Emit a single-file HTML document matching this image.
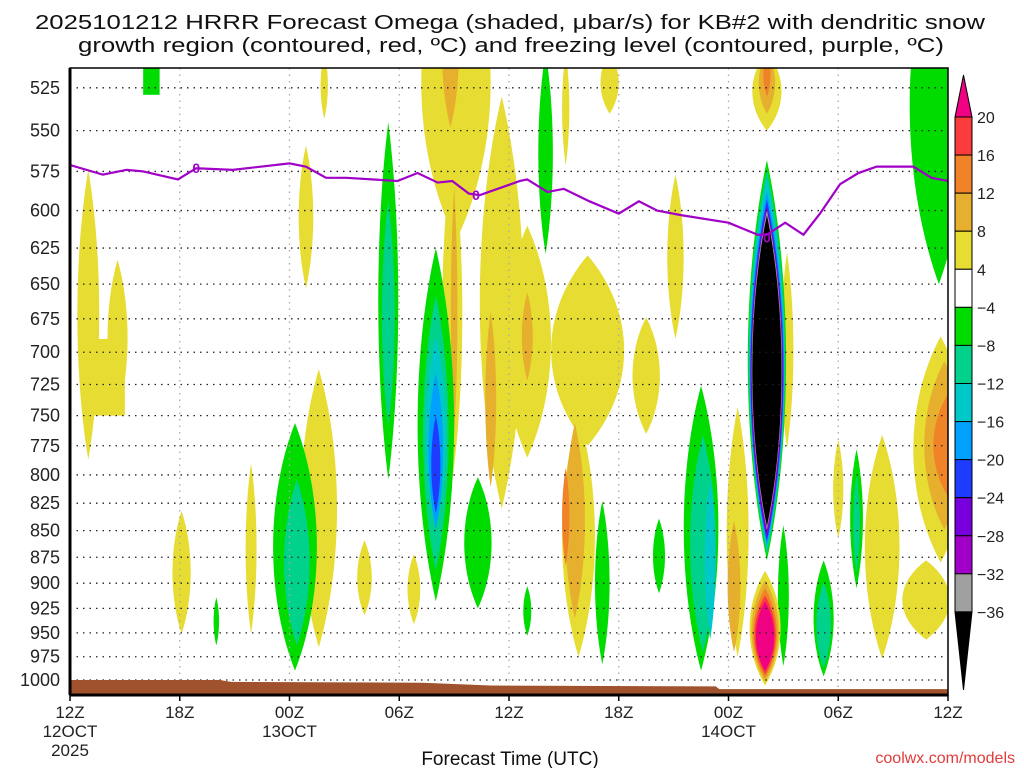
<!DOCTYPE html>
<html><head><meta charset="utf-8">
<style>
html,body{margin:0;padding:0;background:#fff;}
svg{display:block;font-family:"Liberation Sans",sans-serif;}
</style></head>
<body>
<svg id="chart" width="1024" height="768" viewBox="0 0 1024 768" xmlns="http://www.w3.org/2000/svg">
<text x="510" y="29" text-anchor="middle" font-size="20" textLength="950" lengthAdjust="spacingAndGlyphs" fill="#111">2025101212 HRRR Forecast Omega (shaded, μbar/s) for KB#2 with dendritic snow</text>
<text x="511" y="52" text-anchor="middle" font-size="20" textLength="866" lengthAdjust="spacingAndGlyphs" fill="#111">growth region (contoured, red, ºC) and freezing level (contoured, purple, ºC)</text>
<defs><clipPath id="plotClip"><rect x="70" y="68" width="878" height="627"/></clipPath></defs>
<g id="cells" clip-path="url(#plotClip)"></g>
<g id="grid"></g>
<g id="overlay" clip-path="url(#plotClip)"></g>
<g id="axes"></g>
<g id="cbar"></g>
<text x="510" y="765" text-anchor="middle" font-size="19" fill="#111">Forecast Time (UTC)</text>
<text x="1015" y="763" text-anchor="end" font-size="16" fill="#e03c3c">coolwx.com/models</text>
</svg>
<script>
// ---- data ----
const pressureTicks = [525,550,575,600,625,650,675,700,725,750,775,800,825,850,875,900,925,950,975,1000];
const timeTickHours = [0,6,12,18,24,30,36,42,48];
const timeTickLabels = [["12Z","12OCT","2025"],["18Z"],["00Z","13OCT"],["06Z"],["12Z"],["18Z"],["00Z","14OCT"],["06Z"],["12Z"]];
const colorLevels = [20,16,12,8,4,-4,-8,-12,-16,-20,-24,-28,-32,-36];
const levelColors = ["#f00082","#fa3c3c","#f08228","#e6af2d","#e6dc32","#ffffff","#00dc00","#00d28c","#00c8c8","#00a0ff","#1e3cff","#7800dc","#a000c8","#a0a0a0","#000000"];
// freezing level: hour, pressure
const fzHours = [0,1.8,3.1,4.0,5.9,6.9,8.9,12.0,12.9,14.0,15.1,17.9,19.0,20.1,20.9,21.8,22.4,24.6,25.0,26.1,27.0,28.4,30.0,31.1,32.1,33.4,36.0,37.6,38.1,39.1,40.1,41.0,42.1,43.1,44.1,46.1,47.1,48];
const fzPress = [571,577,574,575,580,573,574,570,572,579,579,581,576,582,581,589,590,581,580,588,586,594,602,594,600,603,608,616,616,608,616,602,583,576,572,572,579,581];
const fzLabelHours = [6.9,22.2,38.1];
const fzLabelPress = [573,590,618];
// surface pressure
const sfcHours = [0,8.2,8.8,19.3,23,35.3,35.5,48];
const sfcPress = [1000,1000,1002,1003,1006,1007,1010,1010];
// omega cells: [hour, halfWidthHours, topP, bottomP, binValue, isRect]
const omegaCells = [
 [4.45,0.45,505,529,-4,1],[13.9,0.2,505,543,4],
 [1.0,0.6,574,787,4],[2.6,0.55,633,750,4],[1.9,1.1,690,750,4,1],
 [12.9,0.4,559,653,4],[6.1,0.5,832,951,4],[9.9,0.3,790,951,4],[8.0,0.15,914,963,-4],
 [13.6,1.0,713,965,4],[12.3,1.2,756,990,-4],[12.4,0.7,804,963,-8],
 [16.1,0.4,859,932,4],[17.4,0.55,545,804,-4],[17.4,0.35,594,759,-8],[18.8,0.35,872,941,4],
 [21.1,1.9,440,620,4],[20.9,0.55,560,805,4],[21.0,0.18,585,767,8],[20.8,0.45,470,548,8],
 [23.6,1.2,530,830,4],[23.0,0.3,670,811,8],
 [20.0,1.0,625,918,-4],[20.0,0.7,658,888,-8],[20.0,0.55,688,849,-12],[20.0,0.4,716,849,-16],[20.0,0.25,750,834,-20],
 [22.3,0.75,802,925,-4],
 [26.0,0.4,505,629,-4],[27.1,0.2,505,571,4],[29.5,0.5,505,540,4],
 [25.0,1.3,610,785,4],[28.3,2.0,630,775,4],[27.8,0.9,750,975,4],[27.6,0.55,756,935,8],[27.1,0.2,794,883,12],[25.0,0.3,656,722,8],
 [29.1,0.4,823,983,-4],[25.0,0.22,903,953,-4],[31.5,0.75,674,765,4],[33.1,0.45,577,690,4],[32.2,0.33,839,910,-4],
 [34.5,0.95,726,990,-4],[34.6,0.7,766,970,-8],[35.0,0.3,804,957,-12],
 [36.5,0.6,743,975,4],[36.3,0.35,841,970,8],
 [39.2,0.35,628,777,4],[39.0,0.3,845,985,-4],
 [38.1,1.05,568,878,-4],[38.1,1.0,574,872,-8],[38.1,0.97,579,868,-12],[38.1,0.94,588,864,-16],[38.1,0.91,593,860,-20],[38.1,0.88,597,857,-24],[38.1,0.85,599,852,-28],[38.1,0.83,600,849,-32],[38.1,0.8,603,846,-36],
 [38.1,0.8,505,550,4],[38.1,0.45,505,540,8],[38.1,0.2,505,530,12],
 [38.0,0.85,888,1006,4],[38.0,0.75,897,1002,8],[38.0,0.65,905,998,12],[38.0,0.58,912,994,16],[38.0,0.5,918,990,20],
 [41.2,0.55,878,996,-4],[41.2,0.4,899,987,-8],[42.0,0.28,770,857,4],
 [43.0,0.35,778,905,-4],[43.0,0.18,800,890,-8],
 [44.4,0.95,766,977,4],[46.8,1.3,878,957,4],
 [47.6,1.5,688,880,4],[47.8,1.1,707,849,8],[48.0,0.8,733,819,12],
 [47.5,1.6,440,650,-4]
];
// ---- scales ----
const X0=70, X1=948, Y1000=680, KP=919;
function xS(h){return X0+h*(X1-X0)/48;}
function yS(p){return Y1000-KP*Math.log(1000/p);}
function colorFor(v){
  if(v>=20) return levelColors[0];
  if(v<=-36) return levelColors[14];
  if(v>0){ for(let i=0;i<5;i++){ if(v>=colorLevels[i]) return levelColors[i]; } return levelColors[5]; }
  for(let i=5;i<colorLevels.length;i++){ if(v>colorLevels[i]) return levelColors[i]; }
  return levelColors[13];
}
const NS="http://www.w3.org/2000/svg";
function mk(tag,attrs,parent){const e=document.createElementNS(NS,tag);for(const k in attrs)e.setAttribute(k,attrs[k]);parent.appendChild(e);return e;}

// cells
const cells=document.getElementById('cells');
omegaCells.forEach(c=>{
  const cx=xS(c[0]), w=c[1]*(X1-X0)/48, t=yS(c[2]), b=yS(c[3]);
  let el;
  if(c[5]){
    el=mk('rect',{x:cx-w,y:t,width:2*w,height:b-t,fill:colorFor(c[4])},cells);
  } else {
    const W=w*1.33, H=b-t;
    const d=`M${cx},${t} C${cx+W},${t+0.3*H} ${cx+W},${b-0.3*H} ${cx},${b} C${cx-W},${b-0.3*H} ${cx-W},${t+0.3*H} ${cx},${t} Z`;
    el=mk('path',{d:d,fill:colorFor(c[4])},cells);
  }
  
  
});

// ground
const ov=document.getElementById('overlay');
let gd=`M${xS(sfcHours[0])},700`;
sfcHours.forEach((h,i)=>{gd+=` L${xS(h)},${yS(sfcPress[i])}`;});
gd+=` L${xS(48)},700 Z`;
const ground=mk('path',{d:gd,fill:"#a0522d"},ov);



// grid
const grid=document.getElementById('grid');
pressureTicks.forEach(p=>{
  const l=mk('line',{x1:X0,x2:X1,y1:yS(p),y2:yS(p),stroke:"#222","stroke-width":1.3,"stroke-dasharray":"1.5,5"},grid);
  
  
});
timeTickHours.forEach(h=>{
  if(h===0||h===48) return;
  const l=mk('line',{x1:xS(h),x2:xS(h),y1:68,y2:695,stroke:"#aaa","stroke-width":1.3,"stroke-dasharray":"1.5,5"},grid);
  
  
});

// freezing line
let fd='';
fzHours.forEach((h,i)=>{fd+=(i?' L':'M')+xS(h)+','+yS(fzPress[i]);});
const fz=mk('path',{d:fd,fill:"none",stroke:"#a000c8","stroke-width":2.2},ov);


fzLabelHours.forEach((h,i)=>{
  const t=mk('text',{x:xS(h),y:yS(fzLabelPress[i])+5,"text-anchor":"middle","font-size":14,"font-weight":"bold",fill:"#a000c8"},ov);
  t.textContent='0';
  
  
});

// axes
const ax=document.getElementById('axes');
const frame=mk('rect',{x:X0,y:68,width:X1-X0,height:627,fill:"none",stroke:"#000","stroke-width":1.5},ax);


const bl=mk('line',{x1:X0,x2:X1,y1:695,y2:695,stroke:"#000","stroke-width":3},ax);


const ll=mk('line',{x1:X0,x2:X0,y1:68,y2:695,stroke:"#000","stroke-width":3},ax);


pressureTicks.forEach(p=>{
  const t=mk('text',{x:60,y:yS(p)+6,"text-anchor":"end","font-size":18,fill:"#222"},ax);
  t.textContent=p;
  
  
});
timeTickHours.forEach((h,i)=>{
  const tk=mk('line',{x1:xS(h),x2:xS(h),y1:695,y2:701,stroke:"#000","stroke-width":1.5},ax);
  
  
  timeTickLabels[i].forEach((s,j)=>{
    const t=mk('text',{x:xS(h),y:718+j*19,"text-anchor":"middle","font-size":17,fill:"#222"},ax);
    t.textContent=s;
    
    
  });
});

// colorbar
const cb=document.getElementById('cbar');
const CBX=955, CBW=17, CBT=117, CBS=38.07;
const cbTopArrow=mk('path',{d:`M${CBX},${CBT} L${CBX+CBW/2},75 L${CBX+CBW},${CBT} Z`,fill:levelColors[0],stroke:"#000","stroke-width":1},cb);


for(let i=0;i<13;i++){
  const r=mk('rect',{x:CBX,y:CBT+i*CBS,width:CBW,height:CBS,fill:levelColors[i+1],stroke:"#000","stroke-width":1},cb);
  
  
}
const cbBotArrow=mk('path',{d:`M${CBX},${CBT+13*CBS} L${CBX+CBW/2},690 L${CBX+CBW},${CBT+13*CBS} Z`,fill:levelColors[14],stroke:"#000","stroke-width":1},cb);


colorLevels.forEach((v,i)=>{
  const t=mk('text',{x:CBX+CBW+5,y:CBT+i*CBS+6,"font-size":16,fill:"#222"},cb);
  t.textContent=v<0?('\u2212'+(-v)):String(v);
  
  
});
</script>
</body></html>
